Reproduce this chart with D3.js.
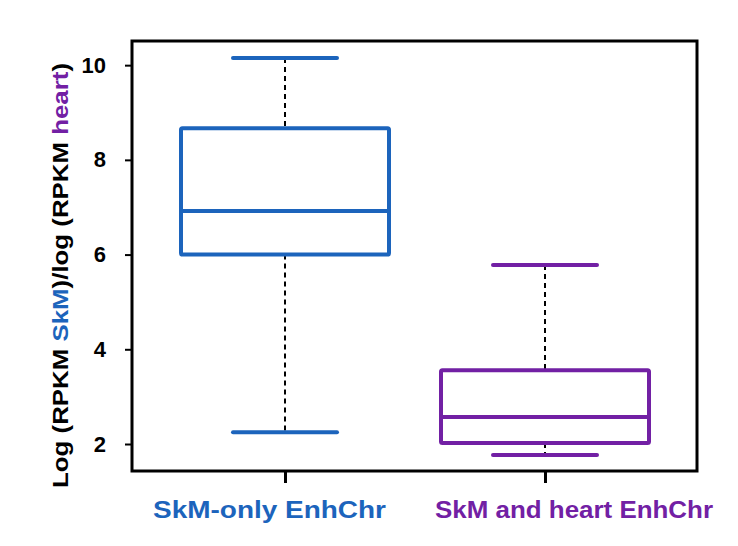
<!DOCTYPE html>
<html><head><meta charset="utf-8">
<script src="https://cdn.jsdelivr.net/npm/d3@7"></script>
<style>body{margin:0;background:#fff}</style>
</head><body>
<script>
const categories = ["SkM-only EnhChr", "SkM and heart EnhChr"];
const colors = ["#1c64bc", "#7220a4"];
const lowerWhisker = [2.25, 1.77];
const q1 = [6.0, 2.02];
const median = [6.92, 2.57];
const q3 = [8.67, 3.56];
const upperWhisker = [10.15, 5.78];
const yTicks = [2, 4, 6, 8, 10];

const W = 738, H = 546;
const m = {l: 132, r: 41, t: 41, b: 75};
const FONT = "Liberation Sans, Arial, sans-serif";
const svg = d3.select("body").append("svg").attr("width", W).attr("height", H);

const y = d3.scaleLinear().domain([1.43, 10.51]).range([H - m.b, m.t]);
const x = d3.scaleLinear().domain([0.5, 2.5]).range([m.l + 23, W - m.r - 22]);
const bw = 0.4; // half box width in data units

// frame
svg.append("rect").attr("x", m.l).attr("y", m.t).attr("width", W - m.l - m.r).attr("height", H - m.t - m.b)
  .attr("fill", "none").attr("stroke", "#000").attr("stroke-width", 3);

// y axis
const yAxis = d3.axisLeft(y).tickValues(yTicks).tickSize(7).tickPadding(19).tickFormat(d3.format("d"));
const ga = svg.append("g").attr("transform", `translate(${m.l},0)`).call(yAxis);
ga.select(".domain").remove();
ga.selectAll(".tick line").attr("stroke-width", 2);
ga.selectAll(".tick text").attr("font-family", FONT).attr("font-weight", "bold").attr("font-size", 22).attr("fill", "#000");

// x axis
const xAxis = d3.axisBottom(x).tickValues([1, 2]).tickSize(12).tickFormat(() => "");
const gx = svg.append("g").attr("transform", `translate(0,${H - m.b})`).call(xAxis);
gx.select(".domain").remove();
gx.selectAll(".tick line").attr("stroke-width", 3);

// x labels (slightly offset from ticks, stretched like the reference)
const labelOffset = [-15.5, 29];
const labelLen = [233, 278];
categories.forEach((c, i) => {
  svg.append("text").attr("x", x(i + 1) + labelOffset[i]).attr("y", 518)
    .attr("text-anchor", "middle").attr("font-family", FONT).attr("font-weight", "bold").attr("font-size", 23)
    .attr("textLength", labelLen[i]).attr("lengthAdjust", "spacingAndGlyphs")
    .attr("fill", colors[i]).text(c);
});

// boxes
categories.forEach((c, i) => {
  const cx = x(i + 1);
  const g = svg.append("g");
  g.append("line").attr("x1", cx).attr("x2", cx).attr("y1", y(upperWhisker[i])).attr("y2", y(q3[i]))
    .attr("stroke", "#000").attr("stroke-width", 2).attr("stroke-dasharray", "5,4");
  g.append("line").attr("x1", cx).attr("x2", cx).attr("y1", y(q1[i])).attr("y2", y(lowerWhisker[i]))
    .attr("stroke", "#000").attr("stroke-width", 2).attr("stroke-dasharray", "5,4");
  [upperWhisker[i], lowerWhisker[i]].forEach(v => {
    g.append("line").attr("x1", x(i + 1 - bw / 2)).attr("x2", x(i + 1 + bw / 2)).attr("y1", y(v)).attr("y2", y(v))
      .attr("stroke", colors[i]).attr("stroke-width", 4).attr("stroke-linecap", "round");
  });
  g.append("rect").attr("x", x(i + 1 - bw)).attr("width", x(i + 1 + bw) - x(i + 1 - bw))
    .attr("y", y(q3[i])).attr("height", y(q1[i]) - y(q3[i]))
    .attr("fill", "#fff").attr("stroke", colors[i]).attr("stroke-width", 4).attr("rx", 1.5);
  g.append("line").attr("x1", x(i + 1 - bw)).attr("x2", x(i + 1 + bw)).attr("y1", y(median[i])).attr("y2", y(median[i]))
    .attr("stroke", colors[i]).attr("stroke-width", 4);
});

// y title
const t = svg.append("text").attr("transform", `translate(68,275.5) rotate(-90)`)
  .attr("text-anchor", "middle").attr("font-family", FONT).attr("font-weight", "bold").attr("font-size", 22)
  .attr("textLength", 425).attr("lengthAdjust", "spacingAndGlyphs");
[["Log (RPKM ", "#000"], ["SkM", colors[0]], [")/log (RPKM ", "#000"], ["heart", colors[1]], [")", "#000"]]
  .forEach(([s, col]) => t.append("tspan").attr("fill", col).text(s));
</script>
</body></html>
